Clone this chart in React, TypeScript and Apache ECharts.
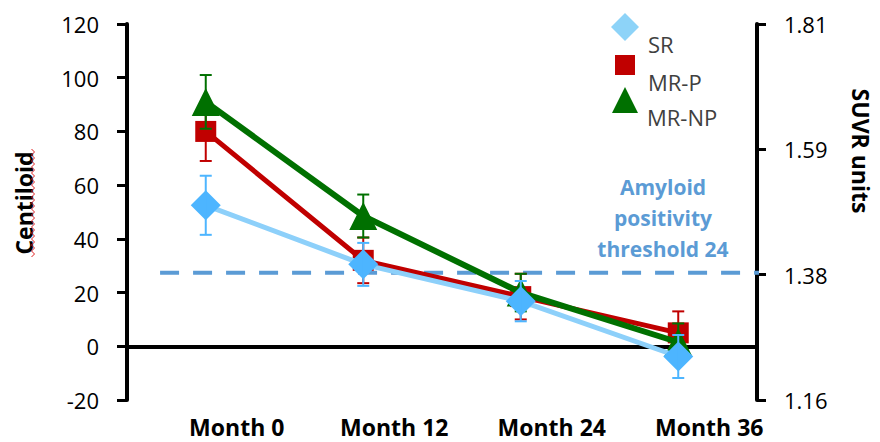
import React, { useEffect, useRef } from "react";
import * as echarts from "echarts";

const categories = ["Month 0", "Month 12", "Month 24", "Month 36"];
const seriesNames = ["SR", "MR-P", "MR-NP"];
const srValues = [52.5, 30.5, 16.8, -3.8];
const srErrors = [11, 8, 7.5, 8];
const mrpValues = [80, 32, 18.5, 5];
const mrpErrors = [11, 8.5, 8.5, 8];
const mrnpValues = [91, 48.5, 20, 1.5];
const mrnpErrors = [10, 8, 7, 7];
const leftTicks = { min: -20, max: 120, interval: 20 };
const suvrRange = { min: 1.16, max: 1.81 };
const suvrTicks = [1.16, 1.16 + 0.65 / 3, 1.16 + 1.3 / 3, 1.81];
const thresholdSUVR = 1.38;
const thresholdSpan = [-0.29, 3.66];
const thresholdText = "Amyloid\npositivity\nthreshold 24";

const FONT = '"Open Sans", "Noto Sans", sans-serif';

const errData = (vals: number[], errs: number[]) =>
  vals.map((v, i) => [i, v - errs[i], v + errs[i]]);

const errSeries = (name: string, color: string, vals: number[], errs: number[]) => ({
  type: "custom",
  name: name + "-err",
  xAxisIndex: 0,
  yAxisIndex: 0,
  z: 3,
  encode: { x: 0, y: [1, 2] },
  data: errData(vals, errs),
  renderItem: (params: any, api: any) => {
    const x = api.value(0);
    const top = api.coord([x, api.value(2)]);
    const bot = api.coord([x, api.value(1)]);
    const hw = 6;
    const style = { stroke: color, lineWidth: 2 };
    return {
      type: "group",
      children: [
        { type: "line", shape: { x1: top[0], y1: top[1], x2: bot[0], y2: bot[1] }, style },
        { type: "line", shape: { x1: top[0] - hw, y1: top[1], x2: top[0] + hw, y2: top[1] }, style },
        { type: "line", shape: { x1: bot[0] - hw, y1: bot[1], x2: bot[0] + hw, y2: bot[1] }, style },
      ],
    };
  },
});

const legendOf = (name: string, icon: string, size: number, color: string, left: number, top: number, padLeft: number) => ({
  data: [{ name, icon, itemStyle: { color } }],
  orient: "vertical",
  left,
  top,
  padding: 0,
  itemWidth: size,
  itemHeight: size,
  selectedMode: false,
  formatter: (n: string) => "\n" + n,
  textStyle: {
    fontFamily: FONT,
    fontSize: 22,
    lineHeight: 34,
    color: "#404040",
    padding: [0, 0, 0, padLeft],
  },
});

const squiggle: number[][] = [];
for (let i = 0; i <= 36; i++) squiggle.push([i % 2 === 0 ? 31.5 : 34.5, 257 - i * 3]);

export default function App() {
  const ref = useRef<HTMLDivElement>(null);
  useEffect(() => {
    if (!ref.current) return;
    const chart = echarts.init(ref.current, undefined, { renderer: "svg" });
    const option: any = {
      animation: false,
      backgroundColor: "#ffffff",
      grid: { left: 127, right: 117, top: 24, bottom: 42 },
      legend: [
        legendOf("SR", "diamond", 28, "#8DD3F8", 611, -7, 4),
        legendOf("MR-P", "rect", 20, "#C00000", 615, 31, 8),
        legendOf("MR-NP", "triangle", 26, "#007000", 612, 66, 4),
      ],
      xAxis: [
        {
          type: "category",
          data: categories,
          boundaryGap: true,
          axisLine: { show: true, onZero: true, onZeroAxisIndex: 0, lineStyle: { color: "#000", width: 4 } },
          axisTick: { show: false },
          axisLabel: { show: false },
          splitLine: { show: false },
        },
        {
          type: "category",
          data: categories,
          position: "bottom",
          boundaryGap: true,
          axisLine: { show: false, onZero: false },
          axisTick: { show: false },
          axisLabel: {
            show: true,
            interval: 0,
            showMinLabel: true,
            showMaxLabel: true,
            hideOverlap: false,
            margin: 16,
            color: "#000",
            fontFamily: FONT,
            fontWeight: "bold",
            fontSize: 23,
            lineHeight: 22,
            padding: [0, 0, 0, 62],
          },
          splitLine: { show: false },
        },
        { type: "value", show: false, min: -0.5, max: 3.5 },
      ],
      yAxis: [
        {
          type: "value",
          position: "left",
          min: leftTicks.min,
          max: leftTicks.max,
          interval: leftTicks.interval,
          name: "Centiloid",
          nameLocation: "middle",
          nameRotate: 90,
          nameGap: 92,
          nameTextStyle: { fontFamily: FONT, fontWeight: "bold", fontSize: 23, color: "#000", padding: [0, 0, 0, 18] },
          axisLine: { show: true, onZero: false, lineStyle: { color: "#000", width: 4 } },
          axisTick: { show: true, inside: false, length: 10, lineStyle: { color: "#000", width: 3 } },
          axisLabel: { margin: 28, color: "#000", fontFamily: FONT, fontSize: 22 },
          splitLine: { show: false },
        },
        {
          type: "value",
          position: "right",
          min: suvrRange.min,
          max: suvrRange.max,
          name: "SUVR units",
          nameLocation: "middle",
          nameRotate: -90,
          nameGap: 92,
          nameTextStyle: { fontFamily: FONT, fontWeight: "bold", fontSize: 23, color: "#000", padding: [0, 122, 0, 0] },
          axisLine: { show: true, onZero: false, lineStyle: { color: "#000", width: 4 } },
          axisTick: { show: true, inside: false, length: 9, customValues: suvrTicks, lineStyle: { color: "#000", width: 3 } },
          axisLabel: {
            margin: 27,
            color: "#000",
            fontFamily: FONT,
            fontSize: 22,
            customValues: suvrTicks,
            formatter: (v: number) => v.toFixed(2),
          },
          splitLine: { show: false },
        },
      ],
      graphic: [
        {
          type: "text",
          x: 663,
          y: 171,
          z: 10,
          style: {
            text: thresholdText,
            textAlign: "center",
            textVerticalAlign: "top",
            fill: "#5B9BD5",
            font: 'bold 21px "Open Sans", sans-serif',
            lineHeight: 31,
          },
        },
        {
          type: "polyline",
          z: 10,
          silent: true,
          shape: { points: squiggle },
          style: { stroke: "#E02020", lineWidth: 1, fill: null },
        },
      ],
      series: [
        {
          type: "line",
          name: "threshold",
          xAxisIndex: 2,
          yAxisIndex: 1,
          data: thresholdSpan.map((x) => [x, thresholdSUVR]),
          z: 1,
          clip: false,
          silent: true,
          symbol: "none",
          showSymbol: false,
          lineStyle: { color: "#5B9BD5", width: 4, type: [19, 14] },
        },
        {
          type: "line",
          name: seriesNames[1],
          xAxisIndex: 0,
          yAxisIndex: 0,
          data: mrpValues,
          z: 2,
          symbol: "rect",
          symbolSize: 21,
          lineStyle: { color: "#C00000", width: 5 },
          itemStyle: { color: "#C00000" },
        },
        errSeries(seriesNames[1], "#C00000", mrpValues, mrpErrors),
        {
          type: "line",
          name: seriesNames[2],
          xAxisIndex: 0,
          yAxisIndex: 0,
          data: mrnpValues,
          z: 4,
          symbol: "triangle",
          symbolSize: 28,
          lineStyle: { color: "#007000", width: 6 },
          itemStyle: { color: "#007000" },
        },
        { ...errSeries(seriesNames[2], "#007000", mrnpValues, mrnpErrors), z: 5 },
        {
          type: "line",
          name: seriesNames[0],
          xAxisIndex: 0,
          yAxisIndex: 0,
          data: srValues,
          z: 6,
          symbol: "diamond",
          symbolSize: 30,
          lineStyle: { color: "#8DD0FA", width: 5 },
          itemStyle: { color: "#4DB5FF" },
        },
        { ...errSeries(seriesNames[0], "#4DB5FF", srValues, srErrors), z: 7 },
      ],
    };
    chart.setOption(option);
    return () => chart.dispose();
  }, []);
  return (
    <div
      ref={ref}
      style={{ position: "absolute", left: 0, top: 0, width: 880, height: 442, background: "#fff" }}
    />
  );
}
